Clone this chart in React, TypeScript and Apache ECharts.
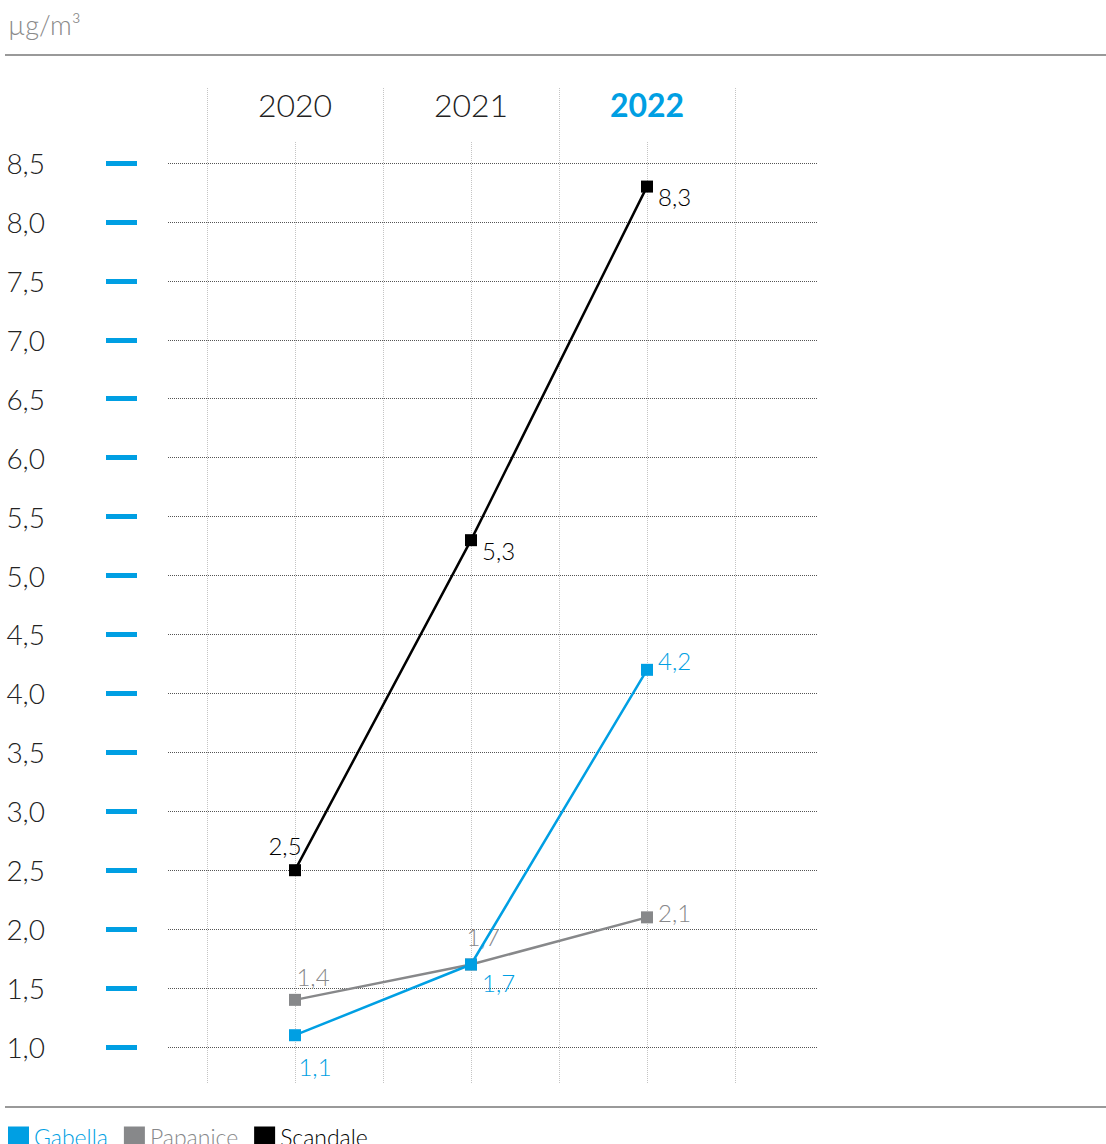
import React, { useEffect, useRef } from "react";
import * as echarts from "echarts";

const years = ["2020", "2021", "2022"];
const gabella = [1.1, 1.7, 4.2];
const papanice = [1.4, 1.7, 2.1];
const scandale = [2.5, 5.3, 8.3];
const unitLabel = "µg/m³";
const highlightYear = "2022";

const BLUE = "#009fe3";
const GRAY = "#87888a";
const BLACK = "#000000";
const FONT = "Lato";

const fmt = (v: number) => v.toFixed(1).replace(".", ",");

function labelCfg(color: string, position: string, offset: number[]) {
  return {
    show: true,
    position,
    offset,
    distance: 5,
    color,
    fontSize: 24,
    fontFamily: FONT,
    fontWeight: 300,
    formatter: (p: any) => fmt(p.value),
  };
}

export default function App() {
  const ref = useRef<HTMLDivElement>(null);
  useEffect(() => {
    if (!ref.current) return;
    const chart = echarts.init(ref.current, null, { renderer: "svg" });
    const gabellaLabels = [
      labelCfg(BLUE, "bottom", [20, 8]),
      labelCfg(BLUE, "right", [0, 18]),
      labelCfg(BLUE, "right", [0, -9]),
    ];
    const papaniceLabels = [
      labelCfg(GRAY, "top", [18, 0]),
      labelCfg(GRAY, "top", [12, -5]),
      labelCfg(GRAY, "right", [0, -5]),
    ];
    const scandaleLabels = [
      labelCfg(BLACK, "top", [-10, -2]),
      labelCfg(BLACK, "right", [0, 10]),
      labelCfg(BLACK, "right", [0, 10]),
    ];
    const mk = (name: string, vals: number[], color: string, labels: any[], z: number) => ({
      name,
      type: "line",
      xAxisIndex: 3,
      yAxisIndex: 2,
      data: vals.map((v, i) => ({ value: v, label: labels[i] })),
      symbol: "rect",
      symbolSize: 12,
      z,
      lineStyle: { color, width: 2.5 },
      itemStyle: { color },
    });
    chart.setOption({
      animation: false,
      grid: [
        { left: 207, width: 528, top: 88, height: 995 },
        { left: 106, width: 711, top: 163, height: 884 },
        { left: 207, width: 528, top: 163, height: 884 },
        { left: 168, width: 649, top: 163, height: 884 },
      ],
      xAxis: [
        {
          type: "category",
          gridIndex: 0,
          position: "top",
          data: years,
          boundaryGap: true,
          axisLine: { show: false },
          axisTick: { show: false },
          axisLabel: {
            inside: true,
            margin: 0,
            interval: 0,
            fontSize: 32,
            fontFamily: FONT,
            fontWeight: 300,
            color: "#222",
            formatter: (v: string) => (v === highlightYear ? `{b|${v}}` : v),
            rich: {
              b: { fontSize: 32, fontFamily: FONT, fontWeight: "bold", color: BLUE },
            },
          },
          splitLine: {
            show: true,
            interval: 0,
            lineStyle: { color: "#c4c4c4", type: "dotted", width: 1 },
          },
        },
        {
          type: "category",
          gridIndex: 0,
          position: "bottom",
          data: years,
          boundaryGap: true,
          axisLine: { show: false },
          axisLabel: { show: false },
          axisTick: {
            show: true,
            inside: true,
            alignWithLabel: true,
            interval: 0,
            length: 942,
            lineStyle: { color: "#c4c4c4", type: "dotted", width: 1 },
          },
          splitLine: { show: false },
        },
        { type: "value", gridIndex: 1, show: false },
        { type: "category", gridIndex: 2, data: years, boundaryGap: true, show: false },
        { type: "value", gridIndex: 3, show: false },
      ],
      yAxis: [
        { type: "value", gridIndex: 0, show: false },
        {
          type: "value",
          gridIndex: 1,
          min: 1,
          max: 8.5,
          interval: 0.5,
          axisLine: { show: false },
          axisTick: { show: true, inside: true, length: 31, lineStyle: { color: BLUE, width: 5 } },
          axisLabel: {
            margin: 61,
            fontSize: 28,
            fontFamily: FONT,
            fontWeight: 300,
            color: "#222",
            formatter: (v: number) => fmt(v),
          },
          splitLine: { show: false },
        },
        { type: "value", gridIndex: 2, min: 1, max: 8.5, show: false },
        {
          type: "value",
          gridIndex: 3,
          min: 1,
          max: 8.5,
          interval: 0.5,
          axisLine: { show: false },
          axisTick: { show: false },
          axisLabel: { show: false },
          splitLine: {
            show: true,
            lineStyle: { color: "#555", type: "dotted", width: 1 },
          },
        },
      ],
      legend: {
        left: 3,
        top: 1120,
        itemWidth: 21,
        itemHeight: 20,
        itemGap: 16,
        icon: "rect",
        data: [
          { name: "Gabella", textStyle: { color: BLUE } },
          { name: "Papanice", textStyle: { color: GRAY } },
          { name: "Scandale", textStyle: { color: BLACK } },
        ],
        textStyle: { fontSize: 23, fontFamily: FONT, fontWeight: 300 },
      },
      graphic: [
        {
          type: "text",
          left: 8,
          top: 11,
          style: { text: unitLabel, fontSize: 27, fontFamily: FONT, fontWeight: 300, fill: "#8a8a8a" },
        },
        {
          type: "line",
          shape: { x1: 5, y1: 55, x2: 1106, y2: 55 },
          style: { stroke: "#777", lineWidth: 1.5 },
        },
        {
          type: "line",
          shape: { x1: 5, y1: 1107, x2: 1106, y2: 1107 },
          style: { stroke: "#777", lineWidth: 1.5 },
        },
      ],
      series: [
        mk("Gabella", gabella, BLUE, gabellaLabels, 4),
        mk("Papanice", papanice, GRAY, papaniceLabels, 3),
        mk("Scandale", scandale, BLACK, scandaleLabels, 5),
      ],
    });
    return () => chart.dispose();
  }, []);
  return <div ref={ref} style={{ width: 1106, height: 1144, position: "absolute", left: 0, top: 0 }} />;
}
